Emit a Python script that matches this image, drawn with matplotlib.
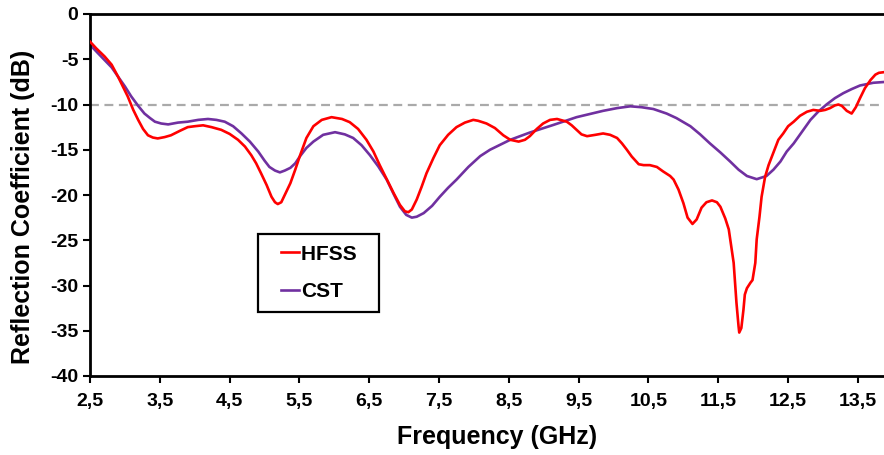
import matplotlib
matplotlib.use("Agg")
import matplotlib.pyplot as plt
from matplotlib.legend_handler import HandlerLine2D

plt.rcParams["font.family"] = ["Liberation Sans", "DejaVu Sans"]
plt.rcParams["font.weight"] = "bold"
plt.rcParams["axes.unicode_minus"] = False

# HFSS
hfss_freq = [2.50, 2.59, 2.71, 2.81, 2.90, 2.97, 3.04, 3.12, 3.19, 3.26, 3.33, 3.40,
             3.47, 3.57, 3.66, 3.79, 3.90, 4.00, 4.12, 4.24, 4.38, 4.50, 4.62, 4.72,
             4.81, 4.88, 4.95, 5.03, 5.10, 5.15, 5.19, 5.24, 5.29, 5.37, 5.44, 5.51,
             5.60, 5.70, 5.82, 5.96, 6.11, 6.22, 6.34, 6.46, 6.56, 6.65, 6.75, 6.85,
             6.94, 7.01, 7.06, 7.11, 7.18, 7.25, 7.32, 7.42, 7.51, 7.63, 7.75, 7.87,
             7.99, 8.06, 8.18, 8.30, 8.42, 8.52, 8.64, 8.73, 8.80, 8.90, 8.99, 9.09,
             9.19, 9.33, 9.40, 9.47, 9.54, 9.62, 9.74, 9.85, 9.95, 10.05, 10.12,
             10.19, 10.26, 10.36, 10.43, 10.52, 10.62, 10.71, 10.81, 10.86, 10.93,
             11.00, 11.06, 11.13, 11.19, 11.26, 11.33, 11.41, 11.48, 11.53, 11.60,
             11.65, 11.69, 11.72, 11.74, 11.76, 11.79, 11.80, 11.83, 11.86, 11.88,
             11.91, 11.96, 11.99, 12.03, 12.05, 12.09, 12.12, 12.17, 12.22, 12.29,
             12.36, 12.43, 12.50, 12.58, 12.67, 12.77, 12.86, 12.96, 13.03, 13.10,
             13.17, 13.22, 13.27, 13.34, 13.41, 13.47, 13.53, 13.60, 13.68, 13.75,
             13.80, 13.90]
hfss_db = [-3.05, -3.8, -4.7, -5.6, -6.9, -8.0, -9.1, -10.6, -11.7, -12.7, -13.4,
           -13.65, -13.75, -13.6, -13.4, -12.9, -12.5, -12.4, -12.3, -12.5, -12.8,
           -13.25, -13.9, -14.65, -15.6, -16.5, -17.6, -18.9, -20.2, -20.8, -21.0,
           -20.8, -20.0, -18.7, -17.2, -15.6, -13.7, -12.4, -11.7, -11.4, -11.6,
           -11.95, -12.7, -13.9, -15.2, -16.7, -18.25, -19.8, -21.1, -21.8, -21.9,
           -21.6, -20.5, -19.1, -17.6, -15.9, -14.5, -13.35, -12.5, -12.0, -11.7,
           -11.8, -12.1, -12.6, -13.4, -13.9, -14.1, -13.9, -13.5, -12.7, -12.1,
           -11.7, -11.6, -11.9, -12.3, -12.8, -13.3, -13.5, -13.35, -13.2, -13.35,
           -13.7, -14.3, -15.0, -15.75, -16.6, -16.7, -16.7, -16.9, -17.4, -17.9,
           -18.3, -19.4, -20.9, -22.5, -23.2, -22.7, -21.4, -20.8, -20.6, -20.8,
           -21.3, -22.6, -23.8, -25.9, -27.5, -29.7, -31.9, -34.5, -35.2, -34.7,
           -32.7, -31.0, -30.3, -29.7, -29.4, -27.5, -24.9, -22.4, -20.2, -18.0,
           -16.7, -15.3, -13.9, -13.2, -12.4, -11.9, -11.25, -10.8, -10.6, -10.7,
           -10.6, -10.4, -10.1, -10.0, -10.15, -10.7, -11.0, -10.3, -9.3, -8.2,
           -7.3, -6.7, -6.5, -6.4]

# CST
cst_freq = [2.50, 2.61, 2.71, 2.81, 2.90, 3.00, 3.09, 3.19, 3.28, 3.36, 3.43, 3.52,
            3.62, 3.76, 3.90, 4.05, 4.19, 4.31, 4.43, 4.55, 4.67, 4.79, 4.91, 5.00,
            5.07, 5.15, 5.22, 5.29, 5.37, 5.44, 5.51, 5.60, 5.70, 5.84, 6.01, 6.15,
            6.27, 6.39, 6.51, 6.63, 6.75, 6.85, 6.94, 7.03, 7.11, 7.18, 7.28, 7.40,
            7.51, 7.63, 7.75, 7.92, 8.09, 8.23, 8.52, 8.80, 9.14, 9.47, 9.85, 10.05,
            10.24, 10.40, 10.57, 10.76, 10.90, 11.10, 11.24, 11.38, 11.53, 11.67,
            11.79, 11.91, 12.05, 12.19, 12.29, 12.39, 12.48, 12.58, 12.70, 12.82,
            12.93, 13.05, 13.17, 13.29, 13.41, 13.53, 13.72, 13.90]
cst_db = [-3.4, -4.3, -5.1, -5.9, -6.9, -8.0, -9.1, -10.15, -11.0, -11.5, -11.9,
          -12.1, -12.2, -12.0, -11.9, -11.7, -11.6, -11.7, -11.9, -12.4, -13.2,
          -14.1, -15.2, -16.2, -16.9, -17.3, -17.5, -17.3, -17.0, -16.5, -15.7,
          -14.8, -14.1, -13.35, -13.06, -13.3, -13.7, -14.5, -15.6, -16.85, -18.3,
          -19.9, -21.3, -22.2, -22.5, -22.4, -22.0, -21.2, -20.2, -19.2, -18.3,
          -16.9, -15.7, -15.0, -13.9, -13.1, -12.25, -11.4, -10.7, -10.4, -10.2,
          -10.3, -10.5, -11.0, -11.5, -12.4, -13.3, -14.3, -15.3, -16.3, -17.2,
          -17.9, -18.25, -17.9, -17.2, -16.3, -15.2, -14.3, -13.0, -11.7, -10.8,
          -10.0, -9.3, -8.75, -8.3, -7.9, -7.6, -7.5]

xticks = [2.5, 3.5, 4.5, 5.5, 6.5, 7.5, 8.5, 9.5, 10.5, 11.5, 12.5, 13.5]
yticks = [0, -5, -10, -15, -20, -25, -30, -35, -40]

fig = plt.figure(figsize=(8.84, 4.55), dpi=100)
# plot area runs a little past the right edge of the picture (cropped like the original)
ax = fig.add_axes([90 / 884, 1 - 376 / 455, (904 - 90) / 884, (376 - 14) / 455])

ax.axhline(-10, color="#aaaaaa", linestyle=(0, (4, 2.5)), linewidth=1.6, zorder=1)
ax.plot(hfss_freq, hfss_db, color="#ff0000", linewidth=1.9, label="HFSS", zorder=3,
        solid_joinstyle="round")
ax.plot(cst_freq, cst_db, color="#7030a0", linewidth=1.9, label="CST", zorder=2,
        solid_joinstyle="round")

ax.set_xlim(2.5, 14.16)
ax.set_ylim(-40, 0)
ax.set_xticks(xticks)
ax.set_xticklabels([f"{t:g}".replace(".", ",") for t in xticks])
ax.set_yticks(yticks)
ax.tick_params(axis="both", labelsize=14, width=1.5, length=5, direction="out")
ax.tick_params(axis="x", pad=7)
for lab in ax.get_xticklabels() + ax.get_yticklabels():
    lab.set_fontweight("bold")

for s in ["left", "bottom", "top"]:
    ax.spines[s].set_linewidth(2)
ax.spines["right"].set_visible(False)

ax.set_xlabel("Frequency (GHz)", fontsize=18, fontweight="bold", labelpad=11)
ax.set_ylabel("Reflection Coefficient (dB)", fontsize=18, fontweight="bold")
ax.yaxis.set_label_coords(-0.0676, 0.467)

# short handle with wide side padding, like the original legend box
handles, labels = ax.get_legend_handles_labels()
leg = ax.legend(handles, ["HFSS  ", "CST"], loc="upper left",
                bbox_to_anchor=(0.2064, 0.392),
                handler_map={h: HandlerLine2D(marker_pad=0.6, numpoints=2) for h in handles},
                handlelength=2.08, handletextpad=-0.51, borderpad=0.5,
                labelspacing=0.9, borderaxespad=0, fancybox=False,
                prop={"weight": "bold", "size": 15})
leg.get_frame().set_edgecolor("black")
leg.get_frame().set_linewidth(1.6)
leg.get_frame().set_alpha(1)

fig.savefig("out.png", dpi=100)
